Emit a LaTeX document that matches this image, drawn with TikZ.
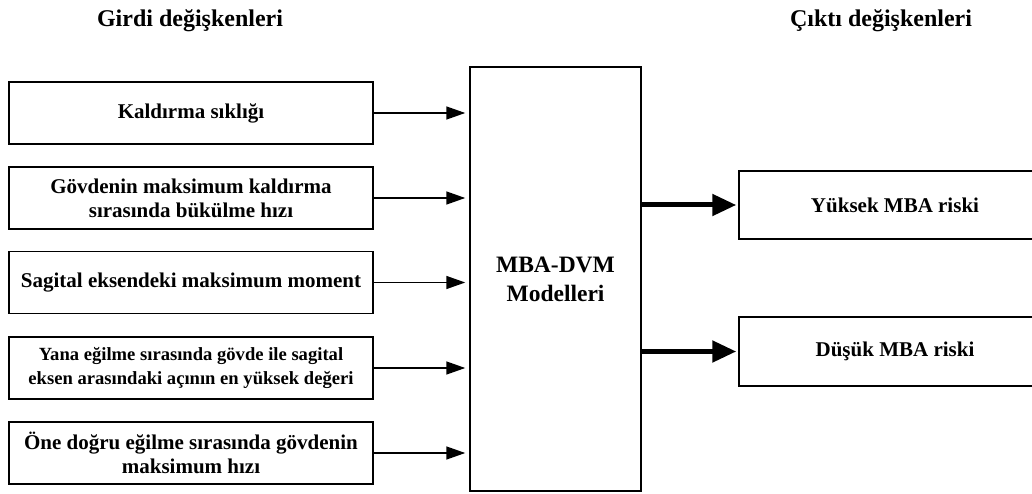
\documentclass[tikz,border=0pt]{standalone}
\usepackage{fontspec}
\setmainfont{Liberation Serif}
\usetikzlibrary{arrows.meta}
\begin{document}
\begin{tikzpicture}[x=1pt,y=-1pt,
  inbox/.style={draw, line width=1.5pt, minimum width=364pt, minimum height=62pt, inner sep=0pt, align=center, font=\bfseries\fontsize{21}{24}\selectfont},
  modelbox/.style={draw, line width=1.5pt, minimum width=171pt, minimum height=424pt, inner sep=0pt, align=center, font=\bfseries\fontsize{23.5}{29}\selectfont},
  outbox/.style={draw, line width=1.5pt, minimum width=312pt, minimum height=68pt, inner sep=0pt, align=center, font=\bfseries\fontsize{21}{24}\selectfont},
  title/.style={inner sep=0pt, font=\bfseries\fontsize{24}{28}\selectfont},
  thinarrow/.style={line width=1.5pt, -{Triangle[length=19pt,width=13pt]}, shorten >=4pt},
  thickarrow/.style={line width=5pt, -{Triangle[length=24pt,width=21pt]}, shorten >=2pt}
]
\useasboundingbox (0,0) rectangle (1032,494);
\clip (0,0) rectangle (1032,494);

\node[title] (t1) at (190,21) {Girdi değişkenleri};
\node[title] (t2) at (881,21) {Çıktı değişkenleri};

\node[inbox] (in1) at (191,113) {Kaldırma sıklığı};
\node[inbox] (in2) at (191,198) {Gövdenin maksimum kaldırma\\sırasında bükülme hızı};
\node[inbox] (in3) at (191,282.5) {Sagital eksendeki maksimum moment};
\node[inbox, font=\bfseries\fontsize{18.6}{24}\selectfont] (in4) at (191,368) {Yana eğilme sırasında gövde ile sagital\\eksen arasındaki açının en yüksek değeri};
\node[inbox] (in5) at (191,453) {Öne doğru eğilme sırasında gövdenin\\maksimum hızı};

\node[modelbox] (model) at (555.5,279) {MBA-DVM\\Modelleri};

\node[outbox] (out1) at (895,205) {Yüksek MBA riski};
\node[outbox, minimum height=69pt] (out2) at (895,351.5) {Düşük MBA riski};

\foreach \n in {in1,in2,in3,in4,in5}
  \draw[thinarrow] (\n.east) -- (\n.east -| model.west);

\draw[thickarrow] (model.east |- out1.west) -- (out1.west);
\draw[thickarrow] (model.east |- out2.west) -- (out2.west);
\end{tikzpicture}
\end{document}
